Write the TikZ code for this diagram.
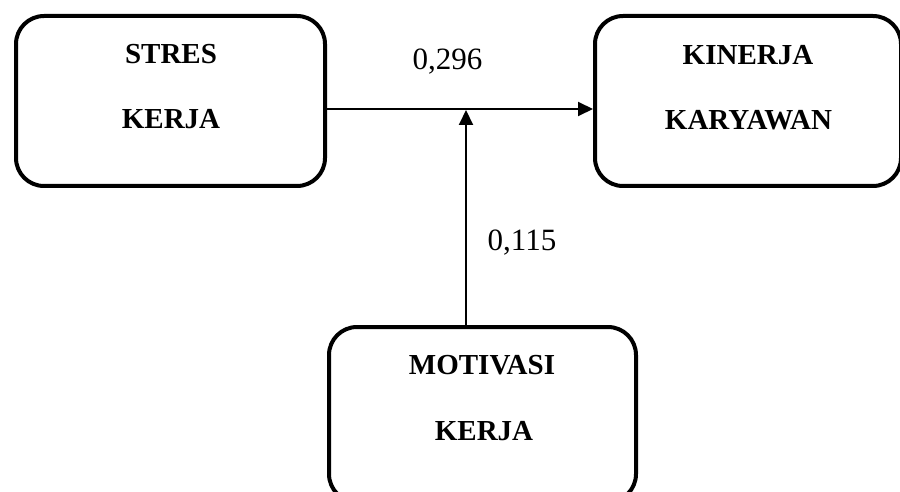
\documentclass[tikz,border=0pt]{standalone}
\usepackage{fontspec}
\setmainfont{Liberation Serif}
\usepackage{tikz}
\usetikzlibrary{arrows.meta}
\tikzset{every node/.style={font=\fontsize{29}{33}\selectfont\bfseries}}

\begin{document}
\begin{tikzpicture}[line cap=round,line join=round,x=1pt,y=-1pt,
    kotak/.style={draw,line width=4pt,rounded corners=28pt,inner sep=0pt},
    judul/.style={anchor=base},
    angka/.style={anchor=base,font=\fontsize{31}{35}\selectfont},
    panah/.style={-{Triangle[length=15pt,width=14pt]},line width=2pt}]
            \clip (0,0) rectangle (900,492);
            \node [kotak,minimum width=309pt,minimum height=170pt] (stres) at (170.5,101) {};
            \node [kotak,minimum width=306pt,minimum height=170pt] (kinerja) at (748,101) {};
            \node [kotak,minimum width=307pt,minimum height=175pt] (motivasi) at (482.5,414.5) {};
            \node [judul] (stres1) at (171,64) {STRES};
            \node [judul] (stres2) at (171,129) {KERJA};
            \node [judul] (kinerja1) at (748,65) {KINERJA};
            \node [judul] (kinerja2) at (748.5,130) {KARYAWAN};
            \node [judul] (motivasi1) at (482,374) {MOTIVASI};
            \node [judul] (motivasi2) at (484,440) {KERJA};
            \coordinate (temu) at (466,110);
            \draw [panah] ([yshift=-8pt]stres.east) -- ([yshift=-8pt]kinerja.west);
            \draw [panah] (motivasi.north -| temu) -- (temu);
            \node [angka] (b1) at (447.5,70) {0,296};
            \node [angka] (b2) at (522,250) {0,115};
\end{tikzpicture}
\end{document}
